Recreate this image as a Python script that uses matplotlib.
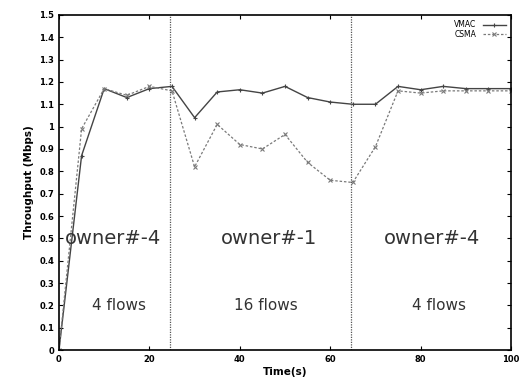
import numpy as np
import matplotlib.pyplot as plt

time_s = [0, 5, 10, 15, 20, 25, 30, 35, 40, 45, 50, 55, 60, 65, 70, 75, 80, 85, 90, 95, 100]
vmac = [0.0, 0.87, 1.17, 1.13, 1.17, 1.18, 1.04, 1.155, 1.165, 1.15, 1.18, 1.13, 1.11, 1.10,
        1.10, 1.18, 1.165, 1.18, 1.17, 1.17, 1.17]
csma = [0.0, 0.99, 1.17, 1.14, 1.18, 1.16, 0.82, 1.01, 0.92, 0.90, 0.965, 0.84, 0.76, 0.75,
        0.91, 1.16, 1.15, 1.16, 1.16, 1.16, 1.16]
phase_bounds = [24.5, 64.5]
owner_labels = ['owner#-4', 'owner#-1', 'owner#-4']
flow_labels = ['4 flows', '16 flows', '4 flows']
owner_x = [12, 46.5, 82.5]
flow_x = [13.3, 45.7, 84]

fig = plt.figure(figsize=(5.22, 3.81), dpi=100)
ax = fig.add_axes([0.113, 0.081, 0.866, 0.88])

ax.plot(time_s, vmac, color='#444444', lw=1.0, marker='+', ms=3.5, mew=0.8, label='VMAC')
ax.plot(time_s, csma, color='#7a7a7a', lw=0.9, ls=(0, (2, 1.5)), marker='x', ms=3.5, mew=0.8,
        label='CSMA')

for b in phase_bounds:
    ax.axvline(b, color='#555555', lw=0.9, ls=(0, (1, 1)))

for x, o in zip(owner_x, owner_labels):
    ax.text(x, 0.5, o, ha='center', va='center', fontsize=14, color='#333333')
for x, f in zip(flow_x, flow_labels):
    ax.text(x, 0.2, f, ha='center', va='center', fontsize=11, color='#333333')

yt = np.round(np.arange(0, 1.51, 0.1), 1)
ax.set_xlim(0, 100)
ax.set_ylim(0, 1.5)
ax.set_xticks(np.arange(0, 101, 20))
ax.set_yticks(yt)
ax.set_yticklabels([f'{v:g}' for v in yt])
ax.tick_params(direction='in', top=True, right=True, labelsize=6, length=3, width=0.8)
for lab in ax.get_xticklabels() + ax.get_yticklabels():
    lab.set_fontweight('bold')
for s in ax.spines.values():
    s.set_linewidth(1.2)
ax.set_xlabel('Time(s)', fontsize=7.5, fontweight='bold', labelpad=2)
ax.set_ylabel('Throughput (Mbps)', fontsize=7.5, fontweight='bold', labelpad=4)

ax.legend(loc='upper right', frameon=False, fontsize=5.5, handlelength=3, markerfirst=False,
          borderaxespad=0.3, labelspacing=0.1)

fig.savefig('out.png', dpi=100)
